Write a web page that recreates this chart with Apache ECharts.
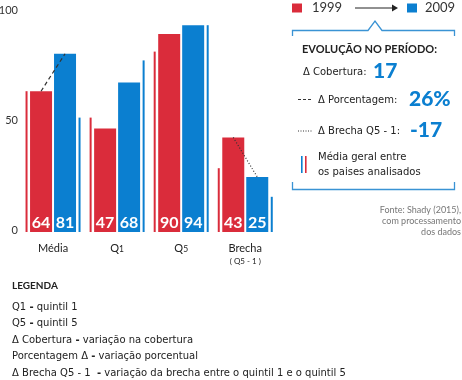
<!DOCTYPE html>
<html><head><meta charset="utf-8">
<script src="https://cdn.jsdelivr.net/npm/echarts@6/dist/echarts.min.js"></script>
<style>html,body{margin:0;padding:0;background:#fff}#c{width:462px;height:380px}</style>
</head><body><div id="c"></div>
<script>
const categories = ['Média', 'Q1', 'Q5', 'Brecha'];
const values1999 = [64, 47, 90, 43];
const values2009 = [81, 68, 94, 25];
const avg1999 = [64, 52, 82, 29];
const avg2009 = [52, 78, 94, 16];
const yTicks = [0, 50, 100];
const years = ['1999', '2009'];
const evolutionLabels = ['Δ Cobertura:', 'Δ Porcentagem:', 'Δ Brecha Q5 - 1:'];
const evolution = ['17', '26%', '-17'];
const legendLines = [
  ['Q1', 'quintil 1'],
  ['Q5', 'quintil 5'],
  ['Δ Cobertura', 'variação na cobertura'],
  ['Porcentagem Δ', 'variação porcentual'],
  ['Δ Brecha Q5 - 1 ', 'variação da brecha entre o quintil 1 e o quintil 5']
];

const RED = '#da2c3b', BLUE = '#0b7fd0', TXT = '#222', FONT = 'DejaVu Sans', NUM = 'Lato';
const chart = echarts.init(document.getElementById('c'), null, {renderer: 'canvas'});

const barLabel = {show: true, position: 'insideBottom', distance: 1, color: '#fff',
  fontFamily: NUM, fontWeight: 'bold', fontSize: 16, formatter: p => p.value};

function catFmt(v) {
  if (v === 'Q1' || v === 'Q5') return '{q|Q}{d|' + v[1] + '}';
  if (v === 'Brecha') return '{q|Brecha}\n{s|( Q5 - 1 )}';
  return '{q|' + v + '}';
}

const connectors = [[0, values1999[0], values2009[0]], [3, values1999[3], values2009[3]]];

const t = (text, x, y, extra) => ({type: 'text', silent: true,
  style: Object.assign({text, x, y, fill: TXT, font: '10px "' + FONT + '"',
    align: 'left', verticalAlign: 'middle', textAlign: 'left', textVerticalAlign: 'middle'}, extra || {})});
const valStyle = {font: '900 21px ' + NUM, fill: BLUE};

const graphic = [
  {type: 'rect', shape: {x: 292, y: 3.5, width: 10, height: 9}, style: {fill: RED}},
  t(years[0], 312, 8, {font: '13px ' + NUM, fill: '#333'}),
  {type: 'line', shape: {x1: 355, y1: 8, x2: 393, y2: 8}, style: {stroke: '#222', lineWidth: 1}},
  {type: 'polygon', shape: {points: [[392, 4.5], [398, 8], [392, 11.5]]}, style: {fill: '#222'}},
  {type: 'rect', shape: {x: 407, y: 3.5, width: 10, height: 9}, style: {fill: BLUE}},
  t(years[1], 425, 8, {font: '13px ' + NUM, fill: '#333'}),
  {type: 'polyline', shape: {points: [[292.5, 36], [292.5, 30.5], [368, 30.5], [375, 21], [382, 30.5], [454.5, 30.5], [454.5, 36]]},
    style: {stroke: '#3a93d4', lineWidth: 1.3, fill: null}},
  {type: 'polyline', shape: {points: [[292.5, 182], [292.5, 189.5], [454.5, 189.5], [454.5, 182]]},
    style: {stroke: '#3a93d4', lineWidth: 1.3, fill: null}},
  t('EVOLUÇÃO NO PERÍODO:', 302, 49.5, {font: 'bold 11px ' + NUM}),
  t(evolutionLabels[0], 303, 72.5),
  t(evolution[0], 373, 71, valStyle),
  {type: 'line', shape: {x1: 298, y1: 99.5, x2: 313, y2: 99.5}, style: {stroke: '#333', lineWidth: 1, lineDash: [3, 2]}},
  t(evolutionLabels[1], 318, 100),
  t(evolution[1], 409, 99, valStyle),
  {type: 'line', shape: {x1: 298, y1: 131, x2: 313, y2: 131}, style: {stroke: '#333', lineWidth: 1, lineDash: [1, 1.5]}},
  t(evolutionLabels[2], 318, 131),
  t(evolution[2], 410, 130, valStyle),
  {type: 'rect', shape: {x: 301, y: 156, width: 1.6, height: 17}, style: {fill: BLUE}},
  {type: 'rect', shape: {x: 305, y: 156, width: 1.6, height: 17}, style: {fill: RED}},
  t('Média geral entre', 318, 157),
  t('os paises analisados', 318, 172),
  t('Fonte: Shady (2015),', 461, 210, {font: '9px ' + NUM, fill: '#777', align: 'right', textAlign: 'right'}),
  t('com processamento', 461, 221, {font: '9px ' + NUM, fill: '#777', align: 'right', textAlign: 'right'}),
  t('dos dados', 461, 232, {font: '9px ' + NUM, fill: '#777', align: 'right', textAlign: 'right'}),
  t('LEGENDA', 12, 286, {font: 'bold 10px ' + NUM})
];
legendLines.forEach((l, i) => {
  graphic.push({type: 'text', silent: true, style: {text: '{a|' + l[0] + ' }{b|-}{a| ' + l[1] + '}', x: 12, y: 307 + i * 16.6,
    align: 'left', verticalAlign: 'middle', textAlign: 'left', textVerticalAlign: 'middle',
    rich: {a: {fontFamily: FONT, fontSize: 10, fill: TXT, color: TXT}, b: {fontFamily: FONT, fontSize: 10, fontWeight: 900, fill: TXT, color: TXT}}}});
});

const option = {
  animation: false,
  grid: {left: 21, right: 184.7, top: 12, bottom: 148, outerBoundsMode: 'none', containLabel: false},
  xAxis: [
    {type: 'category', data: categories, axisLine: {show: false}, axisTick: {show: false},
      axisLabel: {interval: 0, margin: 6, formatter: catFmt, lineHeight: 16,
        rich: {q: {fontFamily: NUM, fontSize: 11, color: TXT, verticalAlign: 'bottom'},
               d: {fontFamily: NUM, fontSize: 8.5, color: TXT, verticalAlign: 'bottom'},
               s: {fontFamily: NUM, fontSize: 8, color: TXT, lineHeight: 14}}}},
    {type: 'category', data: categories, show: false}
  ],
  yAxis: {type: 'value', min: yTicks[0], max: yTicks[yTicks.length - 1], interval: yTicks[1] - yTicks[0],
    axisLine: {show: false}, axisTick: {show: false}, splitLine: {show: false},
    axisLabel: {margin: 3, fontFamily: NUM, fontSize: 11, color: '#333', verticalAlign: 'bottom', padding: [0, 0, -4, 0]}},
  series: [
    {type: 'bar', name: years[0], data: values1999, barWidth: 22, barGap: '9%', itemStyle: {color: RED}, label: barLabel},
    {type: 'bar', name: years[1], data: values2009, barWidth: 22, barGap: '9%', itemStyle: {color: BLUE}, label: barLabel},
    {type: 'bar', xAxisIndex: 1, data: avg1999, barWidth: 2, barGap: '2550%', itemStyle: {color: RED}},
    {type: 'bar', xAxisIndex: 1, data: avg2009, barWidth: 2, barGap: '2550%', itemStyle: {color: BLUE}},
    {type: 'custom', xAxisIndex: 0, data: connectors, z: 10,
      renderItem: (params, api) => {
        const p1 = api.coord([api.value(0), api.value(1)]);
        const p2 = api.coord([api.value(0), api.value(2)]);
        const off = 12;
        return {type: 'line', shape: {x1: p1[0] - off, y1: p1[1], x2: p2[0] + off, y2: p2[1]},
          style: {stroke: '#333', lineWidth: 1.2, lineDash: params.dataIndex === 0 ? [4, 3] : [1, 2]}};
      }}
  ],
  graphic
};
chart.setOption(option);
</script></body></html>
